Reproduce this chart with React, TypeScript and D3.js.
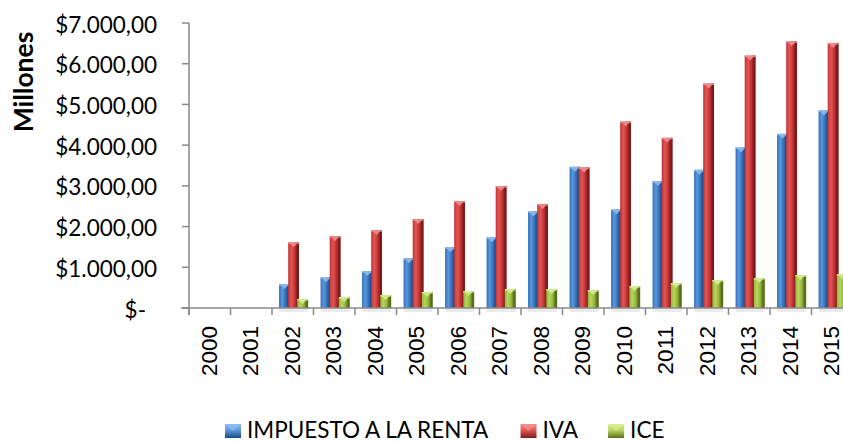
import React from "react";
import * as d3 from "d3";

const years = ["2000","2001","2002","2003","2004","2005","2006","2007","2008","2009","2010","2011","2012","2013","2014","2015"];
const impuestoRenta = [0, 0, 589, 753, 908, 1220, 1490, 1735, 2373, 3468, 2422, 3117, 3394, 3943, 4277, 4852];
const iva = [0, 0, 1612, 1767, 1914, 2184, 2626, 2994, 2552, 3452, 4581, 4180, 5514, 6200, 6552, 6511];
const ice = [0, 0, 221, 270, 319, 393, 417, 466, 466, 442, 540, 613, 687, 736, 810, 834];
const yTicks = [0, 1000, 2000, 3000, 4000, 5000, 6000, 7000];
const seriesNames = ["IMPUESTO A LA RENTA", "IVA", "ICE"];

const palettes = [
  { id: "gb", light: "#5b97db", mid: "#3370ba", dark: "#1d4a85", cap: "#8fbdf0" },
  { id: "gr", light: "#e05555", mid: "#c43434", dark: "#7e1a1a", cap: "#f39090" },
  { id: "gg", light: "#b8d460", mid: "#96b73a", dark: "#56701c", cap: "#d8ee94" },
];

const W = 843, H = 443;
const FONT = "Lato, 'Open Sans', sans-serif";

function fmt(v: number) {
  if (v === 0) return "$-";
  const s = d3.format(",.2f")(v);
  return "$" + s.replace(/,/g, "#").replace(".", ",").replace(/#/g, ".");
}

function measure(text: string, font: string) {
  if (typeof document === "undefined") return text.length * 10;
  const c = document.createElement("canvas").getContext("2d")!;
  c.font = font;
  return c.measureText(text).width;
}

export default function App() {
  const y = d3.scaleLinear().domain([0, 7000]).range([308, 23]);
  const x = d3.scaleBand<string>().domain(years).range([189, 189 + 16 * 41.5]).padding(0);
  const bw = x.bandwidth();
  const series = [impuestoRenta, iva, ice];
  const y0 = y(0);

  const legendFontSize = 22.5;
  const legendFont = `${legendFontSize}px Lato`;
  let lx = 225;
  const legendItems = seriesNames.map((name, i) => {
    const item = { name, i, x: lx };
    lx += 16 + 6 + measure(name, legendFont) + 30;
    return item;
  });

  return (
    <svg width={W} height={H} style={{ position: "absolute", left: 0, top: 0, background: "#fff" }}>
      <defs>
        {palettes.map((p) => (
          <linearGradient key={p.id} id={p.id} x1="0" x2="1" y1="0" y2="0">
            <stop offset="0" stopColor={p.mid} />
            <stop offset="0.3" stopColor={p.light} />
            <stop offset="0.6" stopColor={p.mid} />
            <stop offset="0.85" stopColor={p.dark} />
            <stop offset="1" stopColor={p.dark} />
          </linearGradient>
        ))}
        {palettes.map((p) => (
          <linearGradient key={p.id + "l"} id={p.id + "l"} x1="0" x2="0" y1="0" y2="1">
            <stop offset="0" stopColor={p.cap} />
            <stop offset="0.45" stopColor={p.light} />
            <stop offset="1" stopColor={p.dark} />
          </linearGradient>
        ))}
      </defs>

      {years.map((yr, j) =>
        impuestoRenta[j] + iva[j] + ice[j] > 0 ? (
          <rect key={"sh" + yr} x={(x(yr) as number) + bw * 0.17} y={y0} width={bw * 0.7} height={4} fill="#000" opacity={0.08} />
        ) : null
      )}

      {years.map((yr, j) =>
        series.map((vals, i) => {
          const v = vals[j];
          if (v <= 0) return null;
          const p = palettes[i];
          const bx = (x(yr) as number) + bw * (0.17 + i * 0.22);
          const w = bw * 0.26;
          const top = y(v);
          const h = y0 - top;
          const capH = Math.min(5, h);
          return (
            <g key={yr + i}>
              <rect x={bx} y={top} width={w} height={h} fill={`url(#${p.id})`} />
              <rect x={bx + w - 1.5} y={top} width={1.5} height={h} fill={p.dark} opacity={0.8} />
              <rect x={bx} y={top} width={w} height={1.5} fill={p.cap} opacity={0.9} />
              <polygon
                points={`${bx + 1.5},${top + 1} ${bx + w - 1.5},${top + 1} ${bx + w / 2},${top + capH}`}
                fill={p.cap}
                opacity={0.85}
              />
            </g>
          );
        })
      )}

      <line x1={189} x2={189} y1={y(7000)} y2={315} stroke="#898989" strokeWidth={1.5} />
      {yTicks.map((t) => (
        <g key={"yt" + t}>
          <line x1={182} x2={189} y1={y(t)} y2={y(t)} stroke="#898989" strokeWidth={1.5} />
          <text
            x={t === 0 ? 146 : 157}
            y={y(t) + 1}
            textAnchor="end"
            dominantBaseline="central"
            fontFamily={FONT}
            fontSize={22.5}
            fill="#000"
          >
            {fmt(t)}
          </text>
        </g>
      ))}

      <line x1={181} x2={W} y1={y0} y2={y0} stroke="#898989" strokeWidth={1.5} />
      {years.map((yr) => (
        <line key={"xt" + yr} x1={x(yr) as number} x2={x(yr) as number} y1={y0} y2={315} stroke="#898989" strokeWidth={1.5} />
      ))}
      {years.map((yr) => {
        const cx = (x(yr) as number) + bw / 2 - 0.5;
        return (
          <text
            key={"xl" + yr}
            transform={`translate(${cx},326) rotate(-90)`}
            textAnchor="end"
            dominantBaseline="central"
            fontFamily="'Liberation Sans', Arial, sans-serif"
            fontSize={22.5}
            fill="#000"
          >
            {yr}
          </text>
        );
      })}

      <text
        transform="translate(22.5,82) rotate(-90)"
        textAnchor="middle"
        dominantBaseline="central"
        fontFamily={FONT}
        fontWeight="bold"
        fontSize={26.5}
        fill="#000"
      >
        Millones
      </text>

      {legendItems.map((it) => {
        const p = palettes[it.i];
        return (
          <g key={"lg" + it.i}>
            <rect x={it.x} y={424} width={16} height={14} fill={`url(#${p.id}l)`} />
            <polygon points={`${it.x + 1},${425} ${it.x + 15},${425} ${it.x + 8},${431}`} fill={p.cap} opacity={0.7} />
            <text x={it.x + 22} y={438} fontFamily={FONT} fontSize={legendFontSize} fill="#000">
              {it.name}
            </text>
          </g>
        );
      })}
    </svg>
  );
}
